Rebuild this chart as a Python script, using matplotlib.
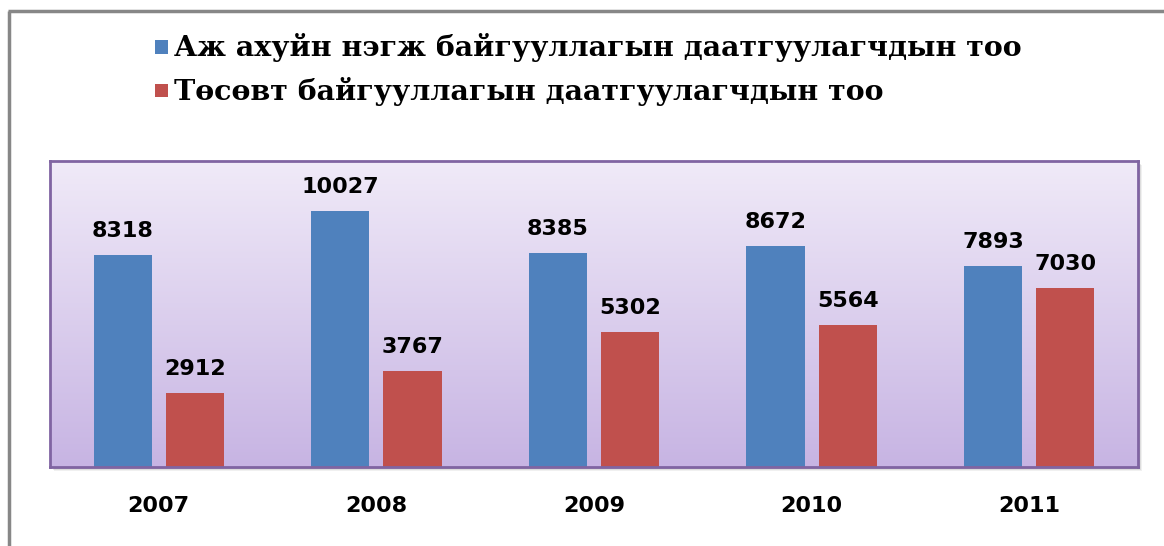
import numpy as np
import matplotlib.pyplot as plt
from matplotlib.patches import Rectangle
from matplotlib.lines import Line2D

# Данные
years = ['2007', '2008', '2009', '2010', '2011']
aj_ahui = [8318, 10027, 8385, 8672, 7893]
tosovt = [2912, 3767, 5302, 5564, 7030]
legend_labels = ['Аж ахуйн нэгж байгууллагын даатгуулагчдын тоо',
                 'Төсөвт байгууллагын даатгуулагчдын тоо']

blue = '#4f81bd'
red = '#c0504d'

fig = plt.figure(figsize=(11.64, 5.46), dpi=100)

# Рамка вокруг рисунка (слева и сверху)
fig.add_artist(Line2D([8.5 / 1164, 8.5 / 1164], [0, 1 - 11 / 546], color='#878787', lw=2.5,
                      solid_capstyle='butt'))
fig.add_artist(Line2D([7.5 / 1164, 1], [1 - 11 / 546, 1 - 11 / 546], color='#878787', lw=2.5,
                      solid_capstyle='butt'))

ax_pos = [50 / 1164, 79 / 546, 1088 / 1164, 306 / 546]

# Тень под областью графика
for i, a in enumerate([0.10, 0.10, 0.08, 0.06]):
    off = (i + 1)
    fig.add_artist(Rectangle((ax_pos[0] + off / 1164, ax_pos[1] - off / 546), ax_pos[2], ax_pos[3],
                             transform=fig.transFigure, facecolor='black', alpha=a,
                             edgecolor='none', zorder=0))

ax = fig.add_axes(ax_pos)

# Градиентный фон
grad = np.linspace(0, 1, 256).reshape(-1, 1)
top_c = np.array([0xf0, 0xea, 0xf8]) / 255
bot_c = np.array([0xc7, 0xb4, 0xe3]) / 255
img = top_c + (bot_c - top_c) * grad[:, :, None] * np.ones((1, 1, 3))
ax.imshow(img, extent=[-0.5, 4.5, 0, 12000], aspect='auto', zorder=0, origin='upper')

x = np.arange(len(years))
w = 0.267
off = 0.166
ax.bar(x - off, aj_ahui, w, color=blue, zorder=2)
ax.bar(x + off, tosovt, w, color=red, zorder=2)

for xi, v in zip(x, aj_ahui):
    ax.annotate(str(v), (xi - off, v), xytext=(0, 10), textcoords='offset points',
                ha='center', va='bottom', fontsize=16, fontweight='bold', family='DejaVu Sans')
for xi, v in zip(x, tosovt):
    ax.annotate(str(v), (xi + off, v), xytext=(0, 10), textcoords='offset points',
                ha='center', va='bottom', fontsize=16, fontweight='bold', family='DejaVu Sans')

ax.set_xlim(-0.5, 4.5)
ax.set_ylim(0, 12000)
ax.set_yticks([])
ax.set_xticks(x)
ax.set_xticklabels(years, fontsize=16, fontweight='bold')
ax.tick_params(axis='x', length=0, pad=21)
for s in ax.spines.values():
    s.set_color('#8064a2')
    s.set_linewidth(2)

# Легенда
for i, (lab, c) in enumerate(zip(legend_labels, [blue, red])):
    yc = 1 - (47 + 44 * i) / 546
    fig.add_artist(Rectangle((155 / 1164, yc - 6.5 / 546), 13 / 1164, 13 / 546,
                             transform=fig.transFigure, facecolor=c, edgecolor='none'))
    fig.text(174 / 1164, yc, lab, ha='left', va='center', fontsize=20.5, fontweight='bold',
             family='DejaVu Serif')

fig.savefig('out.png', dpi=100)
